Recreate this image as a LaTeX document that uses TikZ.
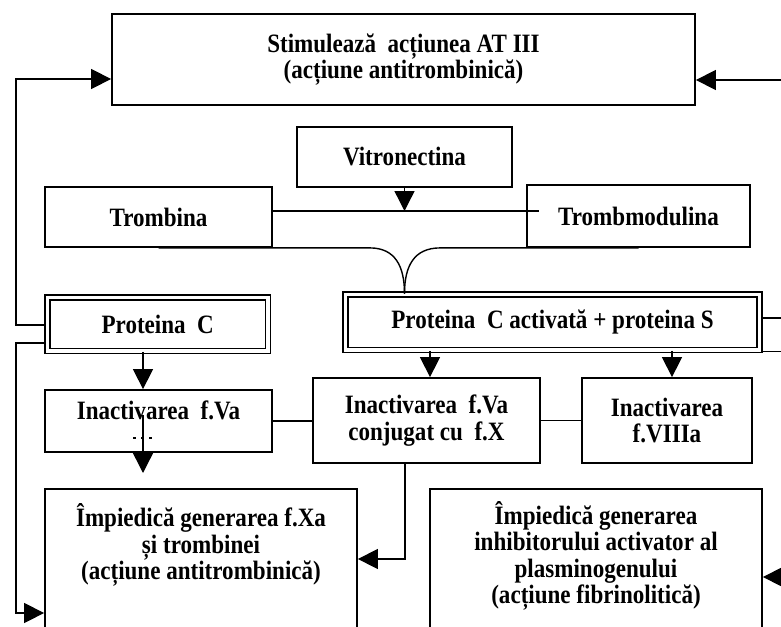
\documentclass[tikz,border=0pt]{standalone}
\usepackage{fontspec}
\setmainfont{Liberation Serif}[FakeStretch=0.87]
\usetikzlibrary{arrows.meta,calc}
\begin{document}
\begin{tikzpicture}[x=1pt,y=-1pt,
  box/.style={draw,line width=1.8pt,inner sep=0pt,align=center,font=\bfseries\fontsize{26.5}{26.5}\selectfont},
  dbox/.style={box,double,double distance=3.2pt,line width=1.5pt},
  txt/.style={inner sep=0pt,align=center,font=\bfseries\fontsize{26.5}{26.5}\selectfont},
  conn/.style={line width=1.4pt},
  arr/.style={conn,-{Triangle[length=20pt,width=20pt]}}]
\useasboundingbox (0,0) rectangle (781,626);
\fill[white] (0,0) rectangle (781,626);
\clip (0,0) rectangle (781,626);
% boxes
\node[box,minimum width=583pt,minimum height=91pt] (top) at (403.5,59.5) {Stimulează~~acțiunea AT III\\(acțiune antitrombinică)};
\node[box,minimum width=215pt,minimum height=60pt] (vit) at (404.5,157) {Vitronectina};
\node[box,minimum width=227pt,minimum height=60pt] (trb) at (158.5,217) {Trombina};
\node[box,minimum width=223pt,minimum height=62pt] (tmd) at (638.5,216) {Trombmodulina};
\node[dbox,minimum width=220.5pt,minimum height=53.5pt] (pc) at (157.75,324.25) {Proteina~~C};
\node[dbox,minimum width=414pt,minimum height=55.5pt] (pca) at (552.5,322.25) {Proteina~~C activată + proteina S};
\node[box,minimum width=227pt,minimum height=62pt] (ina) at (158.5,421) {};
\node[txt] (inat) at (158.5,410) {Inactivarea~~f.Va};
\node[box,minimum width=227pt,minimum height=85pt] (conj) at (426.5,420.5) {Inactivarea~~f.Va\\conjugat cu~~f.X};
\node[box,minimum width=170pt,minimum height=85pt] (viii) at (667,420.5) {Inactivarea\\f.VIIIa};
\node[box,minimum width=312pt,minimum height=160pt,anchor=north] (imp1) at (201,488) {};
\node[txt] (imp1t) at (201,545) {Împiedică generarea f.Xa\\și trombinei\\(acțiune antitrombinică)};
\node[box,minimum width=332pt,minimum height=160pt,anchor=north] (imp2) at (596,488) {};
\node[txt] (imp2t) at (596,556) {Împiedică generarea\\inhibitorului activator al\\plasminogenului\\(acțiune fibrinolitică)};
% helper coordinates
\coordinate (L) at (16,0);
\coordinate (R) at (795,0);
\coordinate (pcl1) at ($(pc.west)+(-2.5,0.75)$);
\coordinate (pcl2) at ($(pc.west)+(-2.5,18.75)$);
\coordinate (topl) at ($(top.west)+(0,19.5)$);
\coordinate (imp1l) at ($(imp1.north west)+(0,125)$);
\coordinate (pcr1) at ($(pca.east)+(2.5,-4.25)$);
\coordinate (pcr2) at ($(pca.south east)+(2.5,1)$);
\coordinate (topr) at ($(top.east)+(0,20.5)$);
\coordinate (imp2r) at ($(imp2.north east)+(0,89)$);
\coordinate (hl) at ($(trb.east)+(0,-6)$);
\coordinate (hr) at ($(tmd.west)+(13,-5)$);
\coordinate (meet) at (vit.south |- pca.north);
\coordinate (ina1) at (143,473);
% side connectors
\draw[arr] (pcl1) -- (pcl1 -| L) |- (topl);
\draw[arr] (pcl2) -- (pcl2 -| L) |- (imp1l);
\draw[arr] (pcr1) -- (pcr1 -| R) |- (topr);
\draw[arr] (pcr2) -- (pcr2 -| R) |- (imp2r);
% vitronectina / trombina / trombmodulina
\draw[conn] (hl) -- (hr);
\draw[arr] (vit.south) -- (vit.south |- hl);
\draw[conn] (trb.south) -- (trb.south -| 370,0) .. controls (395,248) and (404.5,266) .. (meet);
\draw[conn] (tmd.south) -- (tmd.south -| 440,0) .. controls (414,248) and (404.5,266) .. (meet);
% proteina C chain
\draw[arr] (pc.south -| 143,0) -- (ina.north -| 143,0);
\draw[conn] (143,415) -- (ina.south -| 143,0);
\draw[arr] (ina.south -| 143,0) -- (ina1);
\draw[line width=2pt,dash pattern=on 3pt off 5pt] (133,438) -- (152,438);
% proteina C activata chain
\draw[arr] (pca.south -| 430,0) -- (conj.north -| 430,0);
\draw[arr] (pca.south -| 672,0) -- (viii.north -| 672,0);
\draw[conn] (ina.east) -- (ina.east -| conj.west);
\draw[conn] (conj.east) -- (conj.east -| viii.west);
\draw[arr] (conj.south -| 405,0) |- (imp1.east |- 0,559);
\end{tikzpicture}
\end{document}
